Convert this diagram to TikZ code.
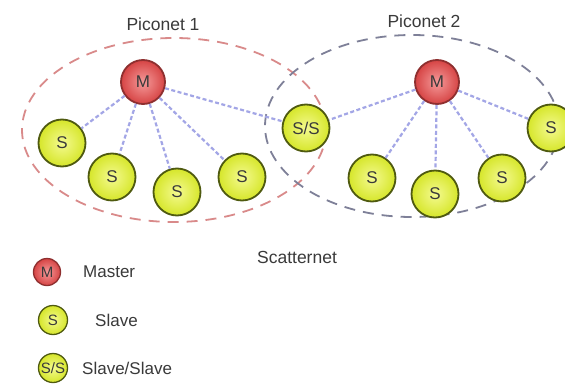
\documentclass[tikz,border=0pt]{standalone}
\usepackage{fontspec}
\setmainfont{Liberation Sans}
\definecolor{mborder}{HTML}{8E2F2F}
\definecolor{minner}{HTML}{F59A9A}
\definecolor{mouter}{HTML}{D64444}
\definecolor{sborder}{HTML}{4F5A10}
\definecolor{sinner}{HTML}{F4FA90}
\definecolor{souter}{HTML}{D6E62A}
\definecolor{linkc}{HTML}{A3A6E6}
\definecolor{pone}{HTML}{D98A8A}
\definecolor{ptwo}{HTML}{7E8098}
\definecolor{txt}{HTML}{3A3A3A}
\begin{document}
\begin{tikzpicture}[x=1pt,y=-1pt,
  master/.style={circle, draw=mborder, line width=1.8pt, inner color=minner, outer color=mouter,
    minimum size=44pt, inner sep=0pt, text=txt, font=\fontsize{17}{19}\selectfont},
  slave/.style={circle, draw=sborder, line width=1.8pt, inner color=sinner, outer color=souter,
    minimum size=47pt, inner sep=0pt, text=txt, font=\fontsize{17}{19}\selectfont},
  lmaster/.style={master, minimum size=27pt, line width=1.3pt, font=\fontsize{15}{17}\selectfont},
  lslave/.style={slave, minimum size=29pt, line width=1.3pt, font=\fontsize{15}{17}\selectfont},
  link/.style={draw=linkc, line width=2.2pt, dash pattern=on 4pt off 2.5pt},
  pico/.style={line width=1.8pt, dash pattern=on 11pt off 8pt},
  lbl/.style={text=txt, font=\fontsize{17.5}{20}\selectfont, inner sep=0pt},
  legend/.style={text=txt, font=\fontsize{17}{19}\selectfont, inner sep=0pt, anchor=west}]
\useasboundingbox (0,0) rectangle (565,383);
\fill[white] (0,0) rectangle (565,383);
% piconet boundaries
\draw[pico, draw=pone] (174,130) ellipse [x radius=152, y radius=92];
\draw[pico, draw=ptwo] (412,126) ellipse [x radius=147, y radius=91];
% labels
\node[lbl] (p1) at (163,24) {Piconet 1};
\node[lbl] (p2) at (424,21) {Piconet 2};
\node[lbl] (sc) at (297,257) {Scatternet};
% nodes
\node[master] (m1) at (143,82) {M};
\node[master] (m2) at (437,82) {M};
\node[slave] (a1) at (62,143) {S};
\node[slave] (a2) at (112,177) {S};
\node[slave] (a3) at (177,192) {S};
\node[slave] (a4) at (242,177) {S};
\node[slave] (ss) at (306,128) {S/S};
\node[slave] (b1) at (372,178) {S};
\node[slave] (b2) at (435,194) {S};
\node[slave] (b3) at (502,178) {S};
\node[slave] (b4) at (551,128) {S};
% links
\foreach \t in {a1,a2,a3,a4,ss} \draw[link] (m1) -- (\t);
\foreach \t in {ss,b1,b2,b3,b4} \draw[link] (m2) -- (\t);
% legend
\node[lmaster] (lm) at (47,272) {M};
\node[legend] (lmt) at (83,272) {Master};
\node[lslave] (ls) at (53,320) {S};
\node[legend] (lst) at (95,320) {Slave};
\node[lslave] (lss) at (53,368) {S/S};
\node[legend] (lsst) at (82,368) {Slave/Slave};
\end{tikzpicture}
\end{document}
